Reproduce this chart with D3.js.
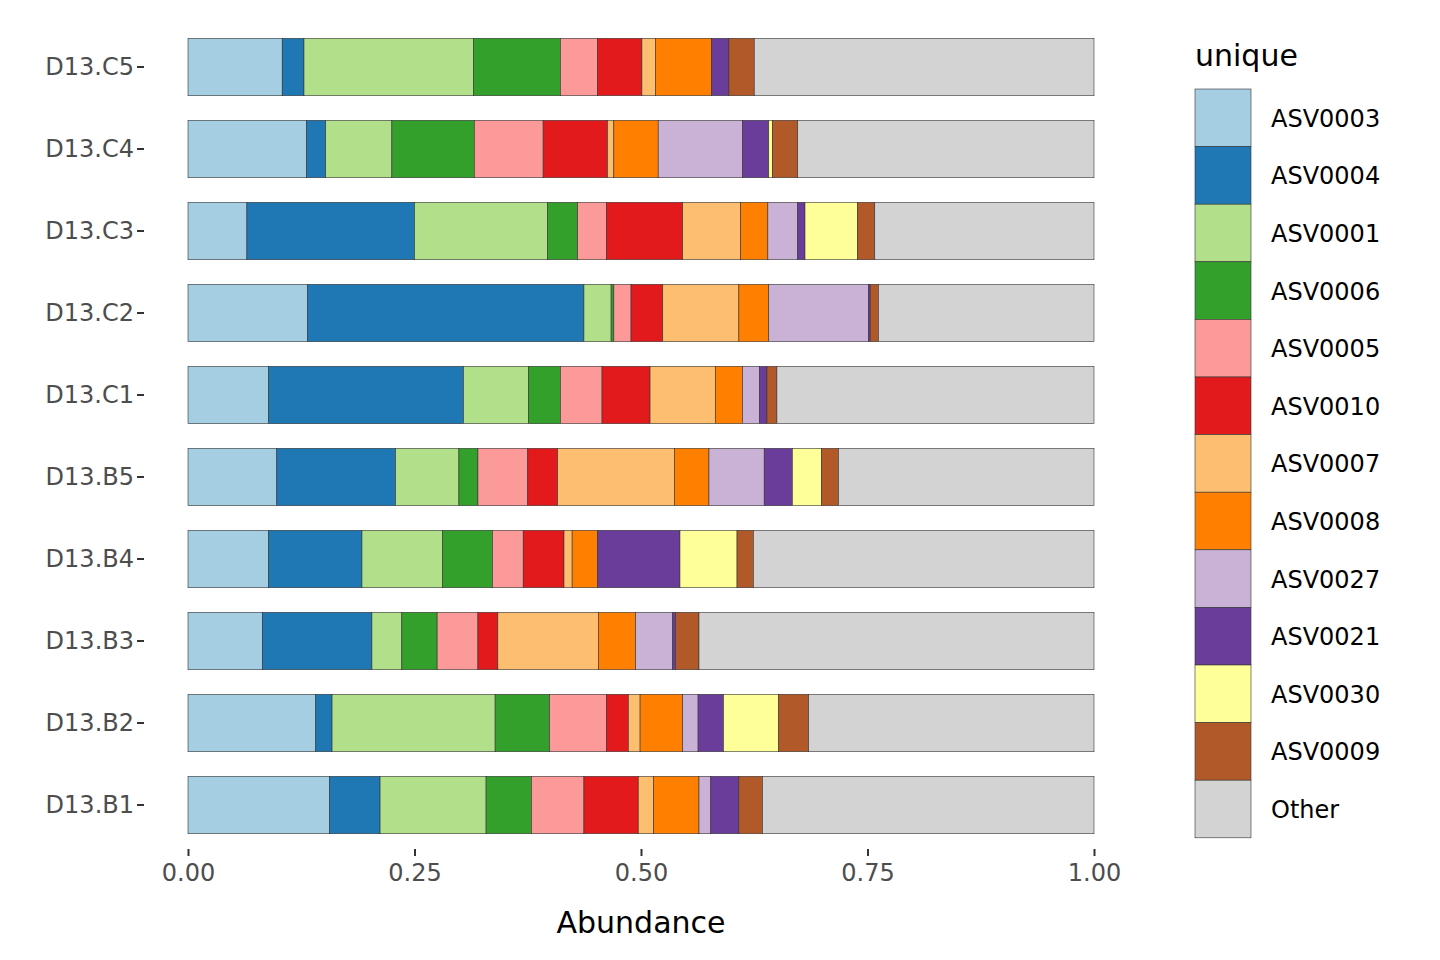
<!DOCTYPE html>
<html><head><meta charset="utf-8">
<script src="https://cdn.jsdelivr.net/npm/d3@7"></script>
<style>body{margin:0;background:#fff;font-family:"DejaVu Sans",sans-serif}</style>
</head><body><div id="chart"></div>
<script>
const samples = ["D13.C5","D13.C4","D13.C3","D13.C2","D13.C1","D13.B5","D13.B4","D13.B3","D13.B2","D13.B1"];
const taxa = ["ASV0003","ASV0004","ASV0001","ASV0006","ASV0005","ASV0010","ASV0007","ASV0008","ASV0027","ASV0021","ASV0030","ASV0009"];
const colors = ["#A6CEE3","#1F78B4","#B2DF8A","#33A02C","#FB9A99","#E31A1C","#FDBF6F","#FF7F00","#CAB2D6","#6A3D9A","#FFFF99","#B15928","#D3D3D3"];
// abundance per sample, in taxa order; "Other" is the remainder
const abundance = {
  "D13.C5": [.104,.024,.187,.096,.041,.049,.015,.062,0,.019,0,.028],
  "D13.C4": [.131,.021,.073,.091,.076,.071,.007,.049,.093,.029,.004,.028],
  "D13.C3": [.065,.185,.147,.033,.032,.084,.064,.030,.033,.008,.058,.019],
  "D13.C2": [.132,.305,.030,.003,.019,.035,.084,.033,.110,.002,0,.009],
  "D13.C1": [.089,.215,.072,.035,.046,.053,.072,.030,.019,.008,0,.011],
  "D13.B5": [.098,.131,.070,.021,.055,.033,.129,.038,.061,.031,.032,.019],
  "D13.B4": [.089,.103,.089,.055,.034,.045,.009,.028,0,.091,.063,.018],
  "D13.B3": [.082,.121,.033,.039,.045,.022,.111,.041,.041,.003,0,.026],
  "D13.B2": [.141,.018,.180,.060,.063,.024,.013,.047,.017,.028,.061,.033],
  "D13.B1": [.156,.056,.117,.050,.058,.060,.017,.050,.013,.031,0,.026]
};
const xTicks = [0, 0.25, 0.5, 0.75, 1];
const keys = taxa.concat(["Other"]);

const svg = d3.select("#chart").append("svg").attr("width",1440).attr("height",960);
const x = d3.scaleLinear().domain([0,1]).range([188,1094]);
const y = d3.scaleBand().domain(samples).range([26,846]).paddingInner(0.3).paddingOuter(0.15);
const color = d3.scaleOrdinal().domain(keys).range(colors);

const rows = samples.map(s => {
  const o = {sample: s};
  taxa.forEach((t,i) => o[t] = abundance[s][i]);
  o.Other = 1 - d3.sum(abundance[s]);
  return o;
});
const stack = d3.stack().keys(keys)(rows);

svg.append("g").selectAll("g").data(stack).join("g")
  .attr("fill", d => color(d.key))
  .selectAll("rect").data(d => d).join("rect")
  .attr("x", d => x(d[0])).attr("width", d => x(d[1]) - x(d[0]))
  .attr("y", d => y(d.data.sample)).attr("height", y.bandwidth())
  .attr("stroke","#333").attr("stroke-width",0.6);

const xa = svg.append("g").attr("transform","translate(0,849)")
  .call(d3.axisBottom(x).tickValues(xTicks).tickFormat(d3.format(".2f")).tickSize(7).tickPadding(8));
const ya = svg.append("g").attr("transform","translate(180,0)")
  .call(d3.axisLeft(y).tickSize(7).tickPadding(8));
[xa,ya].forEach(a => {
  a.select(".domain").remove();
  a.selectAll("line").attr("stroke","#333").attr("stroke-width",2);
  a.selectAll("text").attr("fill","#4d4d4d").style("font-size","24px").style("font-family","DejaVu Sans");
});
ya.attr("transform","translate(180,0)").selectAll("line").attr("x1",-7).attr("x2",-0);
ya.selectAll(".tick line").attr("transform","translate(-37,0)");
ya.selectAll(".tick text").attr("x",-12);
ya.selectAll(".tick line").attr("transform",null).attr("x1",-43).attr("x2",-36);
ya.selectAll(".tick text").attr("x",-46);

svg.append("text").attr("x",641).attr("y",933).attr("text-anchor","middle")
  .style("font-size","30px").text("Abundance");

const lg = svg.append("g").attr("transform","translate(1195,0)");
lg.append("text").attr("x",0).attr("y",66).style("font-size","30px").text("unique");
const step = 57.6;
keys.forEach((k,i) => {
  const yy = 89 + i*step;
  lg.append("rect").attr("x",0).attr("y",yy).attr("width",56).attr("height",step)
    .attr("fill",color(k)).attr("stroke","#333").attr("stroke-width",0.6);
  lg.append("text").attr("x",76).attr("y",yy+step/2+9).style("font-size","24px").text(k);
});
</script></body></html>
